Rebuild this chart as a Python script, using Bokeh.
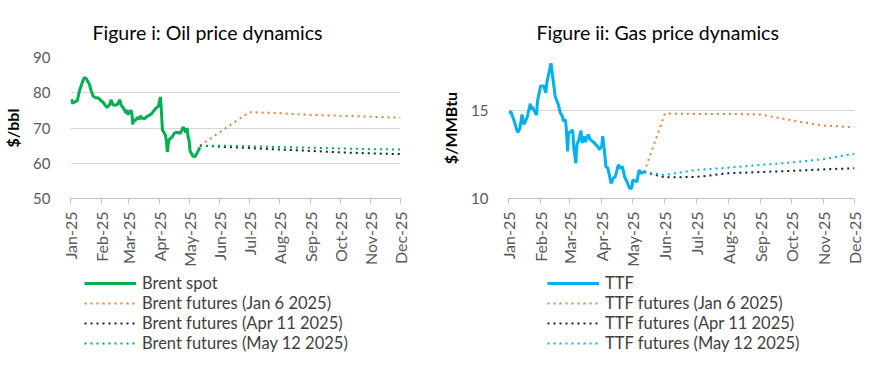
import math
import calendar
import pandas as pd
from bokeh.plotting import figure
from bokeh.layouts import row, column
from bokeh.models import Range1d, FixedTicker, DatetimeTickFormatter, Legend, LegendItem
from bokeh.embed import file_html
from bokeh.resources import INLINE

FONT = "Lato"

# ---------------- data ----------------
month_ticks = ["2025-01-01", "2025-02-01", "2025-03-01", "2025-04-01", "2025-05-01", "2025-06-01",
               "2025-07-01", "2025-08-01", "2025-09-01", "2025-10-01", "2025-11-01", "2025-12-01"]

brent_spot_dates = ["2025-01-02", "2025-01-03", "2025-01-06", "2025-01-08", "2025-01-10", "2025-01-13",
                    "2025-01-15", "2025-01-17", "2025-01-20", "2025-01-22", "2025-01-24", "2025-01-27",
                    "2025-01-29", "2025-01-31", "2025-02-03", "2025-02-05", "2025-02-07", "2025-02-10",
                    "2025-02-11", "2025-02-13", "2025-02-17", "2025-02-19", "2025-02-20", "2025-02-21",
                    "2025-02-24", "2025-02-26", "2025-02-27", "2025-02-28", "2025-03-03", "2025-03-04",
                    "2025-03-05", "2025-03-06", "2025-03-07", "2025-03-10", "2025-03-12", "2025-03-13",
                    "2025-03-14", "2025-03-17", "2025-03-19", "2025-03-21", "2025-03-24", "2025-03-26",
                    "2025-03-28", "2025-03-31", "2025-04-01", "2025-04-02", "2025-04-03", "2025-04-04",
                    "2025-04-07", "2025-04-08", "2025-04-09", "2025-04-10", "2025-04-11", "2025-04-14",
                    "2025-04-16", "2025-04-18", "2025-04-22", "2025-04-24", "2025-04-25", "2025-04-28",
                    "2025-04-29", "2025-04-30", "2025-05-01", "2025-05-02", "2025-05-05", "2025-05-07",
                    "2025-05-08", "2025-05-09", "2025-05-12"]
brent_spot = [78.2, 77.0, 77.5, 77.8, 80.5, 83.0,
              84.3, 84.0, 82.5, 80.5, 79.0, 78.5,
              78.6, 78.0, 77.3, 76.5, 75.8, 76.8,
              78.0, 76.5, 76.5, 77.5, 78.0, 76.6,
              75.5, 74.3, 75.2, 73.8, 75.0, 74.5,
              71.0, 72.5, 72.0, 73.0, 72.5, 73.5,
              72.8, 72.6, 73.2, 73.5, 74.0, 74.8,
              75.5, 76.2, 77.5, 78.8, 75.0, 69.5,
              68.0, 66.5, 63.2, 65.5, 66.8, 67.5,
              68.5, 68.8, 68.5, 69.5, 70.3, 68.7,
              70.0, 67.5, 66.5, 63.5, 62.0, 61.8,
              62.5, 62.8, 64.5]

brent_fut_jan_dates = ["2025-05-12", "2025-07-01", "2025-08-01", "2025-09-01", "2025-10-01", "2025-11-01", "2025-12-01"]
brent_fut_jan = [65.0, 74.5, 74.2, 73.7, 73.5, 73.2, 72.9]
brent_fut_dates = ["2025-05-12", "2025-06-01", "2025-07-01", "2025-08-01", "2025-09-01", "2025-10-01", "2025-11-01", "2025-12-01"]
brent_fut_apr = [65.0, 64.7, 64.3, 63.9, 63.5, 63.1, 62.8, 62.6]
brent_fut_may = [65.0, 65.0, 64.8, 64.6, 64.4, 64.2, 64.0, 63.9]

ttf_spot_dates = ["2025-01-02", "2025-01-03", "2025-01-06", "2025-01-08", "2025-01-10", "2025-01-12",
                  "2025-01-14", "2025-01-16", "2025-01-19", "2025-01-22", "2025-01-23", "2025-01-24",
                  "2025-01-28", "2025-01-29", "2025-02-01", "2025-02-04", "2025-02-06", "2025-02-07",
                  "2025-02-11", "2025-02-14", "2025-02-15", "2025-02-18", "2025-02-20", "2025-02-22",
                  "2025-02-23", "2025-02-25", "2025-02-26", "2025-02-27", "2025-02-28", "2025-03-02",
                  "2025-03-04", "2025-03-05", "2025-03-07", "2025-03-08", "2025-03-10", "2025-03-12",
                  "2025-03-13", "2025-03-15", "2025-03-16", "2025-03-19", "2025-03-21", "2025-03-24",
                  "2025-03-28", "2025-03-30", "2025-04-01", "2025-04-02", "2025-04-04", "2025-04-05",
                  "2025-04-07", "2025-04-10", "2025-04-12", "2025-04-14", "2025-04-17", "2025-04-19",
                  "2025-04-21", "2025-04-23", "2025-04-26", "2025-04-28", "2025-04-30", "2025-05-01",
                  "2025-05-05", "2025-05-07", "2025-05-09", "2025-05-12"]
ttf_spot = [14.8, 14.96, 14.48, 14.1, 13.75, 13.97,
            14.77, 14.2, 14.6, 15.38, 15.05, 15.2,
            14.73, 15.53, 16.39, 16.39, 16.0, 16.58,
            17.67, 16.3, 15.8, 15.34, 14.87, 14.67,
            14.38, 14.48, 13.81, 12.67, 13.72, 13.78,
            13.9, 12.86, 12.0, 13.05, 13.34, 13.85,
            13.15, 13.53, 13.2, 13.62, 13.34, 13.2,
            12.95, 12.77, 13.0, 13.53, 12.48, 11.81,
            11.72, 10.86, 11.14, 11.24, 11.91, 11.72,
            11.81, 11.24, 10.86, 10.57, 10.6, 11.05,
            10.95, 11.62, 11.43, 11.52]

ttf_fut_dates = ["2025-05-12", "2025-06-01", "2025-07-01", "2025-08-01", "2025-09-01", "2025-10-01", "2025-11-01", "2025-12-01"]
ttf_fut_jan = [11.5, 14.82, 14.8, 14.8, 14.77, 14.44, 14.14, 14.04]
ttf_fut_apr = [11.5, 11.2, 11.22, 11.43, 11.5, 11.57, 11.65, 11.72]
ttf_fut_may = [11.5, 11.33, 11.62, 11.75, 11.9, 12.04, 12.23, 12.54]

left_title = "Figure i: Oil price dynamics"
right_title = "Figure ii: Gas price dynamics"
left_ylabel = "$/bbl"
right_ylabel = "$/MMBtu"
left_names = ["Brent spot", "Brent futures (Jan 6 2025)", "Brent futures (Apr 11 2025)", "Brent futures (May 12 2025)"]
right_names = ["TTF", "TTF futures (Jan 6 2025)", "TTF futures (Apr 11 2025)", "TTF futures (May 12 2025)"]

GREEN = "#00B050"
ORANGE = "#ED7D31"
NAVY = "#002060"
BLUE = "#00B0F0"

CHART_H = 272
LEGEND_H = 376 - CHART_H


def d(lst):
    return pd.to_datetime(lst)


def ms(s):
    t = pd.Timestamp(s)
    return calendar.timegm(t.timetuple()) * 1000


def make_chart(width, bl, br, y0, y1, yticks, title, title_offset, ylabel, series):
    p = figure(width=width, height=CHART_H, output_backend="svg", toolbar_location=None,
               x_axis_type="datetime",
               x_range=Range1d(pd.Timestamp(month_ticks[0]), pd.Timestamp(month_ticks[-1])),
               y_range=Range1d(y0, y1),
               min_border_left=bl, min_border_right=br, min_border_top=57,
               min_border_bottom=CHART_H - 198)
    p.outline_line_color = None
    p.background_fill_color = "white"
    p.border_fill_color = "white"

    p.title.text = title
    p.title.align = "left"
    p.title.offset = title_offset
    p.title.text_font = FONT
    p.title.text_font_size = "19.5px"
    p.title.text_font_style = "normal"
    p.title.text_color = "black"
    p.title.standoff = 27

    p.xgrid.grid_line_color = None
    p.ygrid.grid_line_color = "#D9D9D9"
    p.ygrid.grid_line_width = 1

    xa = p.xaxis[0]
    xa.ticker = FixedTicker(ticks=[ms(m) for m in month_ticks])
    xa.formatter = DatetimeTickFormatter(years="%b-%y", months="%b-%y", days="%b-%y", hours="%b-%y")
    xa.major_label_orientation = math.pi / 2
    xa.axis_line_color = "#BFBFBF"
    xa.major_tick_line_color = "#BFBFBF"
    xa.major_tick_out = 5
    xa.major_tick_in = 0
    xa.minor_tick_line_color = None
    xa.major_label_text_font = FONT
    xa.major_label_text_font_size = "16px"
    xa.major_label_text_color = "#595959"
    xa.major_label_standoff = 8

    ya = p.yaxis[0]
    ya.ticker = FixedTicker(ticks=yticks)
    ya.axis_line_color = None
    ya.major_tick_line_color = None
    ya.minor_tick_line_color = None
    ya.major_label_text_font = FONT
    ya.major_label_text_font_size = "15px"
    ya.major_label_text_color = "#595959"
    ya.major_label_standoff = 14
    ya.axis_label = ylabel
    ya.axis_label_text_font = FONT
    ya.axis_label_text_font_size = "16px"
    ya.axis_label_text_font_style = "bold"
    ya.axis_label_text_color = "black"
    ya.axis_label_standoff = 8

    for xs, ys, color, lw, dash in series:
        p.line(d(xs), ys, line_color=color, line_width=lw, line_dash=dash)
    return p


def make_legend(width, series, names, lx):
    # legend panel under each chart (its frame is aligned with the chart's frame);
    # its key lines use the same series, which lie outside this panel's view
    lp = figure(width=width, height=LEGEND_H, output_backend="svg", toolbar_location=None,
                x_range=Range1d(0, 1), y_range=Range1d(0, 1),
                x_axis_location=None, y_axis_location=None,
                min_border=0, min_border_left=0, min_border_right=0,
                min_border_top=0, min_border_bottom=0)
    lp.grid.visible = False
    lp.outline_line_color = None
    lp.background_fill_color = "white"
    lp.border_fill_color = "white"
    items = []
    for (xs, ys, color, lw, dash), name in zip(series, names):
        r = lp.line(x=[ms(x) for x in xs], y=ys, line_color=color, line_width=lw, line_dash=dash)
        items.append(LegendItem(label=name, renderers=[r]))
    leg = Legend(items=items, location=(lx, 23))
    leg.background_fill_alpha = 0
    leg.border_line_color = None
    leg.padding = 0
    leg.margin = 0
    leg.spacing = 0
    leg.label_height = 20
    leg.glyph_height = 20
    leg.glyph_width = 52
    leg.label_standoff = 6
    leg.label_text_font = FONT
    leg.label_text_font_size = "16.5px"
    leg.label_text_color = "#404040"
    lp.add_layout(leg, "center")
    return lp


left_series = [
    (brent_spot_dates, brent_spot, GREEN, 3, "solid"),
    (brent_fut_jan_dates, brent_fut_jan, ORANGE, 2, "2 4"),
    (brent_fut_dates, brent_fut_apr, NAVY, 2, "2 4"),
    (brent_fut_dates, brent_fut_may, GREEN, 2, "2 4"),
]
right_series = [
    (ttf_spot_dates, ttf_spot, BLUE, 3, "solid"),
    (ttf_fut_dates, ttf_fut_jan, ORANGE, 2, "2 4"),
    (ttf_fut_dates, ttf_fut_apr, NAVY, 2, "2 4"),
    (ttf_fut_dates, ttf_fut_may, BLUE, 2, "2 4"),
]

p1 = make_chart(435, 68, 35, 50, 90, [50, 60, 70, 80, 90], left_title, 22, left_ylabel, left_series)
p2 = make_chart(436, 73, 17, 10, 18, [10, 15], right_title, 28, right_ylabel, right_series)
l1 = make_legend(435, left_series, left_names, 14)
l2 = make_legend(436, right_series, right_names, 39)

layout = row(column(p1, l1), column(p2, l2))
open("out.html", "w").write(file_html(layout, INLINE))
